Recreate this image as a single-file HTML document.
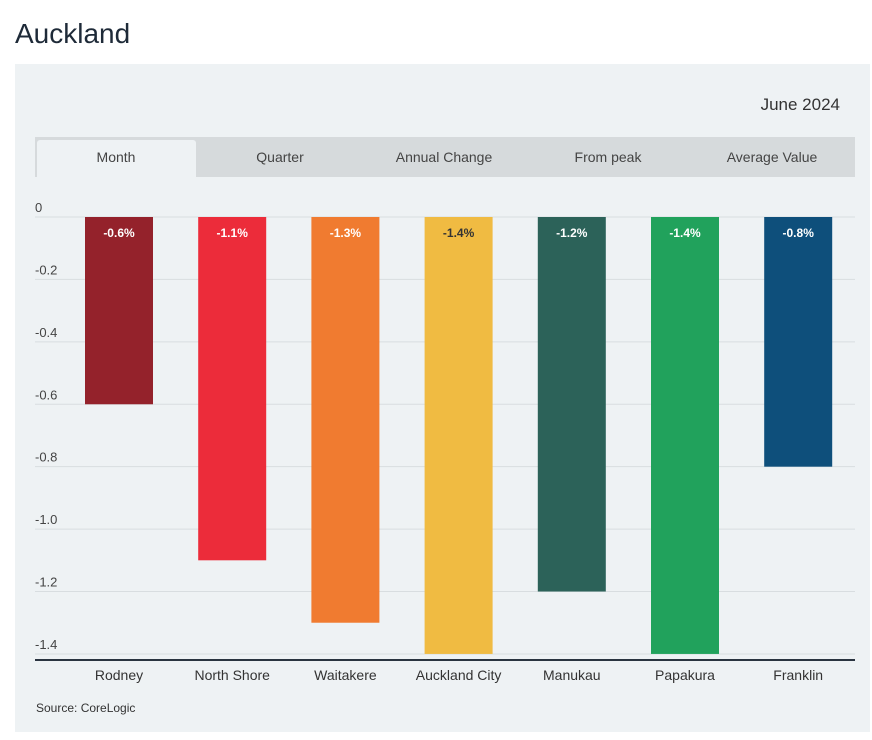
<!DOCTYPE html>
<html><head><meta charset="utf-8"><style>
body{margin:0;width:872px;height:740px;background:#fff;font-family:"Liberation Sans",sans-serif;position:relative;overflow:hidden}
.t{position:absolute}
</style></head><body>
<div class="t" style="left:15px;top:18px;font-size:28px;color:#1e2a38">Auckland</div>
<div class="t" style="left:15px;top:64px;width:855px;height:668px;background:#eef2f4"></div>
<div class="t" style="left:700px;top:95px;width:140px;text-align:right;font-size:17px;color:#333">June 2024</div>
<div class="t" style="left:35px;top:137px;width:820px;height:40px;background:#d6dadc"></div>
<div class="t" style="left:37px;top:140px;width:159px;height:37px;background:#eef2f4;border-radius:3px 3px 0 0"></div>
<svg class="t" style="left:0;top:0" width="872" height="740" id="chart"></svg>
<div class="t" style="left:36px;top:701px;font-size:12px;color:#333">Source: CoreLogic</div>
<script>
const categories=["Rodney","North Shore","Waitakere","Auckland City","Manukau","Papakura","Franklin"];
const values=[-0.6,-1.1,-1.3,-1.4,-1.2,-1.4,-0.8];
const labels=["-0.6%","-1.1%","-1.3%","-1.4%","-1.2%","-1.4%","-0.8%"];
const colors=["#94222b","#ec2c3a","#f07b30","#f0bb42","#2c6259","#21a25c","#0e4f7b"];
const ticks=[0,-0.2,-0.4,-0.6,-0.8,-1.0,-1.2,-1.4];
const tickLabels=["0","-0.2","-0.4","-0.6","-0.8","-1.0","-1.2","-1.4"];
const tabs=["Month","Quarter","Annual Change","From peak","Average Value"];
const NS="http://www.w3.org/2000/svg",svg=document.getElementById('chart');
const y=v=>217-v*312.1;
const x=i=>119+i*113.2;
function mk(t,a,txt){const e=document.createElementNS(NS,t);for(const k in a)e.setAttribute(k,a[k]);if(txt!==undefined)e.textContent=txt;svg.appendChild(e);return e;}
tabs.forEach((t,i)=>{const e=mk('text',{x:116+i*164,y:162,'text-anchor':'middle','font-size':14,fill:'#444','font-family':'Liberation Sans, sans-serif'},t);

});
ticks.forEach((v,i)=>{const l=mk('line',{x1:35,x2:855,y1:y(v),y2:y(v),stroke:'#d8dde0','stroke-width':1});


const t=mk('text',{x:35,y:y(v)-5,'font-size':13,fill:'#444','font-family':'Liberation Sans, sans-serif'},tickLabels[i]);

});
values.forEach((v,i)=>{const r=mk('rect',{x:x(i)-34,y:y(0),width:68,height:y(v)-y(0),fill:colors[i]});


const t=mk('text',{x:x(i),y:y(0)+20,'text-anchor':'middle','font-size':12,'font-weight':'bold',fill:i==3?'#333':'#fff','font-family':'Liberation Sans, sans-serif'},labels[i]);


const c=mk('text',{x:x(i),y:680,'text-anchor':'middle','font-size':14,fill:'#333','font-family':'Liberation Sans, sans-serif'},categories[i]);

});
const ax=mk('line',{x1:35,x2:855,y1:660,y2:660,stroke:'#2a3440','stroke-width':2});


</script>
</body></html>
